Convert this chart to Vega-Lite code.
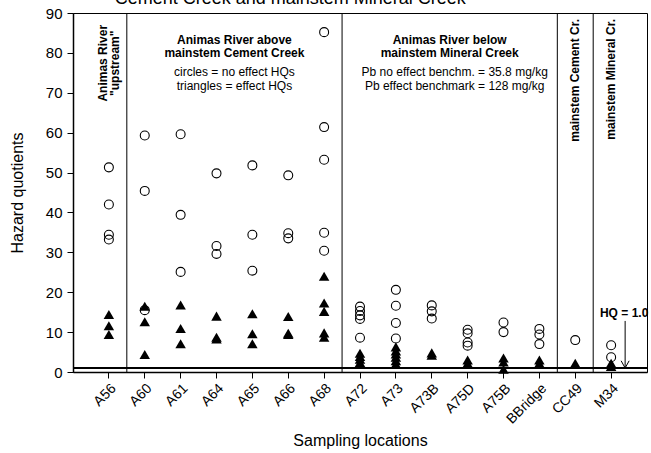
{
  "$schema": "https://vega.github.io/schema/vega-lite/v6.json",
  "width": 574,
  "height": 359,
  "autosize": {"type": "none"},
  "padding": {"left": 73, "top": 13, "right": 4, "bottom": 81},
  "background": "white",
  "config": {
    "font": "Liberation Sans",
    "view": {"stroke": "#000", "strokeWidth": 1},
    "axis": {
      "grid": false,
      "domainColor": "#000",
      "domainWidth": 1.5,
      "tickColor": "#000",
      "tickWidth": 1,
      "labelColor": "#000",
      "titleColor": "#000",
      "titleFontWeight": "normal",
      "labelFont": "Liberation Sans",
      "titleFont": "Liberation Sans",
      "labelOverlap": false
    }
  },
  "resolve": {"axis": {"x": "independent", "y": "independent"}},
  "datasets": {
    "hq": [
      {"loc": "A56", "hq": 51.3, "type": "no effect"},
      {"loc": "A56", "hq": 42.0, "type": "no effect"},
      {"loc": "A56", "hq": 34.4, "type": "no effect"},
      {"loc": "A56", "hq": 33.2, "type": "no effect"},
      {"loc": "A56", "hq": 14.4, "type": "effect"},
      {"loc": "A56", "hq": 11.6, "type": "effect"},
      {"loc": "A56", "hq": 9.4, "type": "effect"},
      {"loc": "A60", "hq": 59.3, "type": "no effect"},
      {"loc": "A60", "hq": 45.4, "type": "no effect"},
      {"loc": "A60", "hq": 15.5, "type": "no effect"},
      {"loc": "A60", "hq": 16.5, "type": "effect"},
      {"loc": "A60", "hq": 12.6, "type": "effect"},
      {"loc": "A60", "hq": 4.4, "type": "effect"},
      {"loc": "A61", "hq": 59.6, "type": "no effect"},
      {"loc": "A61", "hq": 39.4, "type": "no effect"},
      {"loc": "A61", "hq": 25.1, "type": "no effect"},
      {"loc": "A61", "hq": 16.8, "type": "effect"},
      {"loc": "A61", "hq": 10.9, "type": "effect"},
      {"loc": "A61", "hq": 7.1, "type": "effect"},
      {"loc": "A64", "hq": 49.8, "type": "no effect"},
      {"loc": "A64", "hq": 31.6, "type": "no effect"},
      {"loc": "A64", "hq": 29.6, "type": "no effect"},
      {"loc": "A64", "hq": 14.0, "type": "effect"},
      {"loc": "A64", "hq": 8.7, "type": "effect"},
      {"loc": "A64", "hq": 8.3, "type": "effect"},
      {"loc": "A65", "hq": 51.8, "type": "no effect"},
      {"loc": "A65", "hq": 34.4, "type": "no effect"},
      {"loc": "A65", "hq": 25.4, "type": "no effect"},
      {"loc": "A65", "hq": 14.6, "type": "effect"},
      {"loc": "A65", "hq": 9.6, "type": "effect"},
      {"loc": "A65", "hq": 7.1, "type": "effect"},
      {"loc": "A66", "hq": 49.3, "type": "no effect"},
      {"loc": "A66", "hq": 34.8, "type": "no effect"},
      {"loc": "A66", "hq": 33.5, "type": "no effect"},
      {"loc": "A66", "hq": 13.9, "type": "effect"},
      {"loc": "A66", "hq": 9.7, "type": "effect"},
      {"loc": "A66", "hq": 9.4, "type": "effect"},
      {"loc": "A68", "hq": 85.2, "type": "no effect"},
      {"loc": "A68", "hq": 61.4, "type": "no effect"},
      {"loc": "A68", "hq": 53.2, "type": "no effect"},
      {"loc": "A68", "hq": 34.9, "type": "no effect"},
      {"loc": "A68", "hq": 30.4, "type": "no effect"},
      {"loc": "A68", "hq": 24.0, "type": "effect"},
      {"loc": "A68", "hq": 17.3, "type": "effect"},
      {"loc": "A68", "hq": 15.2, "type": "effect"},
      {"loc": "A68", "hq": 9.8, "type": "effect"},
      {"loc": "A68", "hq": 8.7, "type": "effect"},
      {"loc": "A72", "hq": 16.4, "type": "no effect"},
      {"loc": "A72", "hq": 15.3, "type": "no effect"},
      {"loc": "A72", "hq": 14.2, "type": "no effect"},
      {"loc": "A72", "hq": 13.3, "type": "no effect"},
      {"loc": "A72", "hq": 8.6, "type": "no effect"},
      {"loc": "A72", "hq": 4.7, "type": "effect"},
      {"loc": "A72", "hq": 3.9, "type": "effect"},
      {"loc": "A72", "hq": 3.2, "type": "effect"},
      {"loc": "A72", "hq": 2.4, "type": "effect"},
      {"loc": "A73", "hq": 20.6, "type": "no effect"},
      {"loc": "A73", "hq": 16.6, "type": "no effect"},
      {"loc": "A73", "hq": 12.3, "type": "no effect"},
      {"loc": "A73", "hq": 8.4, "type": "no effect"},
      {"loc": "A73", "hq": 6.3, "type": "effect"},
      {"loc": "A73", "hq": 5.3, "type": "effect"},
      {"loc": "A73", "hq": 4.5, "type": "effect"},
      {"loc": "A73", "hq": 3.7, "type": "effect"},
      {"loc": "A73", "hq": 2.8, "type": "effect"},
      {"loc": "A73", "hq": 2.0, "type": "effect"},
      {"loc": "A73B", "hq": 16.7, "type": "no effect"},
      {"loc": "A73B", "hq": 15.2, "type": "no effect"},
      {"loc": "A73B", "hq": 13.4, "type": "no effect"},
      {"loc": "A73B", "hq": 4.8, "type": "effect"},
      {"loc": "A73B", "hq": 4.2, "type": "effect"},
      {"loc": "A75D", "hq": 10.6, "type": "no effect"},
      {"loc": "A75D", "hq": 9.7, "type": "no effect"},
      {"loc": "A75D", "hq": 7.4, "type": "no effect"},
      {"loc": "A75D", "hq": 6.6, "type": "no effect"},
      {"loc": "A75D", "hq": 3.0, "type": "effect"},
      {"loc": "A75D", "hq": 2.2, "type": "effect"},
      {"loc": "A75B", "hq": 12.4, "type": "no effect"},
      {"loc": "A75B", "hq": 10.0, "type": "no effect"},
      {"loc": "A75B", "hq": 3.5, "type": "effect"},
      {"loc": "A75B", "hq": 2.5, "type": "effect"},
      {"loc": "A75B", "hq": 0.7, "type": "effect"},
      {"loc": "BBridge", "hq": 10.8, "type": "no effect"},
      {"loc": "BBridge", "hq": 9.4, "type": "no effect"},
      {"loc": "BBridge", "hq": 7.0, "type": "no effect"},
      {"loc": "BBridge", "hq": 3.0, "type": "effect"},
      {"loc": "BBridge", "hq": 2.2, "type": "effect"},
      {"loc": "CC49", "hq": 8.0, "type": "no effect"},
      {"loc": "CC49", "hq": 2.2, "type": "effect"},
      {"loc": "M34", "hq": 6.7, "type": "no effect"},
      {"loc": "M34", "hq": 3.7, "type": "no effect"},
      {"loc": "M34", "hq": 2.2, "type": "effect"},
      {"loc": "M34", "hq": 1.4, "type": "effect"}
    ],
    "groupStarts": [
      {"loc": "A60"},
      {"loc": "A72"},
      {"loc": "CC49"},
      {"loc": "M34"}
    ]
  },
  "data": {"name": "hq"},
  "layer": [
    {
      "mark": {"type": "point", "shape": "circle", "filled": false, "size": 80, "stroke": "#000", "strokeWidth": 1.1, "opacity": 1},
      "transform": [{"filter": "datum.type === 'no effect'"}],
      "encoding": {
        "x": {
          "field": "loc",
          "type": "nominal",
          "sort": null,
          "scale": {
            "type": "band",
            "domain": ["A56", "A60", "A61", "A64", "A65", "A66", "A68", "A72", "A73", "A73B", "A75D", "A75B", "BBridge", "CC49", "M34"],
            "paddingInner": 0,
            "paddingOuter": 0.5
          },
          "axis": {
            "title": "Sampling locations",
            "titleFontSize": 16,
            "titlePadding": 6,
            "labelAngle": -45,
            "labelFontSize": 14,
            "tickSize": 6,
            "labelPadding": 3
          }
        },
        "y": {
          "field": "hq",
          "type": "quantitative",
          "scale": {"domain": [0, 90], "nice": false, "zero": true},
          "axis": {
            "title": "Hazard quotients",
            "titleFontSize": 16,
            "titlePadding": 20,
            "values": [0, 10, 20, 30, 40, 50, 60, 70, 80, 90],
            "labelOverlap": false,
            "labelFlush": false,
            "labelFontSize": 15,
            "tickSize": 6,
            "labelPadding": 5
          }
        }
      }
    },
    {
      "mark": {"type": "point", "shape": "triangle-up", "filled": true, "size": 110, "color": "#000", "opacity": 1},
      "transform": [{"filter": "datum.type === 'effect'"}],
      "encoding": {
        "x": {"field": "loc", "type": "nominal", "sort": null, "axis": null},
        "y": {"field": "hq", "type": "quantitative", "axis": null}
      }
    },
    {
      "data": {"name": "groupStarts"},
      "mark": {"type": "rule", "color": "#000", "strokeWidth": 1},
      "encoding": {
        "x": {"field": "loc", "type": "nominal", "sort": null, "bandPosition": 0, "axis": null}
      }
    },
    {
      "data": {"values": [{}]},
      "mark": {"type": "rule", "color": "#000", "strokeWidth": 2},
      "encoding": {"y": {"datum": 1, "type": "quantitative", "axis": null}}
    },
    {
      "data": {"values": [{}]},
      "mark": {"type": "rule", "color": "#000", "strokeWidth": 1, "xOffset": 14},
      "encoding": {
        "x": {"datum": "M34", "type": "nominal", "axis": null},
        "y": {"datum": 12.8, "type": "quantitative", "axis": null},
        "y2": {"datum": 1.2}
      }
    },
    {
      "data": {"values": [{}]},
      "mark": {"type": "point", "shape": "M-1,-1.8L0,0L1,-1.8", "filled": false, "size": 64, "stroke": "#000", "strokeWidth": 1, "opacity": 1, "xOffset": 14},
      "encoding": {
        "x": {"datum": "M34", "type": "nominal", "axis": null},
        "y": {"datum": 1, "type": "quantitative", "axis": null}
      }
    },
    {
      "data": {"values": [{}]},
      "mark": {"type": "text", "text": "HQ = 1.0", "fontSize": 12, "fontWeight": "bold", "align": "center", "baseline": "middle", "xOffset": 13},
      "encoding": {
        "x": {"datum": "M34", "type": "nominal", "axis": null},
        "y": {"datum": 14.8, "type": "quantitative", "axis": null}
      }
    },
    {
      "data": {"values": [{}]},
      "mark": {"type": "text", "text": "Cement Creek and mainstem Mineral Creek", "fontSize": 18, "align": "center", "baseline": "alphabetic", "xOffset": 2},
      "encoding": {
        "x": {"datum": "A66", "type": "nominal", "axis": null},
        "y": {"datum": 92.3, "type": "quantitative", "axis": null}
      }
    },
    {
      "data": {"values": [{}]},
      "mark": {"type": "text", "text": ["Animas River", "\"upstream\""], "fontSize": 12, "fontWeight": "bold", "angle": 270, "align": "center", "baseline": "middle", "lineHeight": 12, "xOffset": -6},
      "encoding": {
        "x": {"datum": "A56", "type": "nominal", "axis": null},
        "y": {"datum": 77.4, "type": "quantitative", "axis": null}
      }
    },
    {
      "data": {"values": [{}]},
      "mark": {"type": "text", "text": ["Animas River above", "mainstem Cement Creek"], "fontSize": 12, "fontWeight": "bold", "align": "center", "baseline": "middle", "lineHeight": 13},
      "encoding": {
        "x": {"datum": "A65", "type": "nominal", "bandPosition": 0, "axis": null},
        "y": {"datum": 83.3, "type": "quantitative", "axis": null}
      }
    },
    {
      "data": {"values": [{}]},
      "mark": {"type": "text", "text": ["circles = no effect HQs", "triangles = effect HQs"], "fontSize": 12, "align": "center", "baseline": "middle", "lineHeight": 14.5},
      "encoding": {
        "x": {"datum": "A65", "type": "nominal", "bandPosition": 0, "axis": null},
        "y": {"datum": 75.3, "type": "quantitative", "axis": null}
      }
    },
    {
      "data": {"values": [{}]},
      "mark": {"type": "text", "text": ["Animas River below", "mainstem Mineral Creek"], "fontSize": 12, "fontWeight": "bold", "align": "center", "baseline": "middle", "lineHeight": 13},
      "encoding": {
        "x": {"datum": "A75D", "type": "nominal", "bandPosition": 0, "axis": null},
        "y": {"datum": 83.3, "type": "quantitative", "axis": null}
      }
    },
    {
      "data": {"values": [{}]},
      "mark": {"type": "text", "text": ["Pb no effect benchm. = 35.8 mg/kg", "Pb effect benchmark = 128 mg/kg"], "fontSize": 12, "align": "center", "baseline": "middle", "lineHeight": 14.5, "xOffset": 5},
      "encoding": {
        "x": {"datum": "A75D", "type": "nominal", "bandPosition": 0, "axis": null},
        "y": {"datum": 75.3, "type": "quantitative", "axis": null}
      }
    },
    {
      "data": {"values": [{}]},
      "mark": {"type": "text", "text": "mainstem Cement Cr.", "fontSize": 12, "fontWeight": "bold", "angle": 270, "align": "right", "baseline": "middle"},
      "encoding": {
        "x": {"datum": "CC49", "type": "nominal", "axis": null},
        "y": {"datum": 88.5, "type": "quantitative", "axis": null}
      }
    },
    {
      "data": {"values": [{}]},
      "mark": {"type": "text", "text": "mainstem Mineral Cr.", "fontSize": 12, "fontWeight": "bold", "angle": 270, "align": "right", "baseline": "middle"},
      "encoding": {
        "x": {"datum": "M34", "type": "nominal", "axis": null},
        "y": {"datum": 88.5, "type": "quantitative", "axis": null}
      }
    }
  ]
}
